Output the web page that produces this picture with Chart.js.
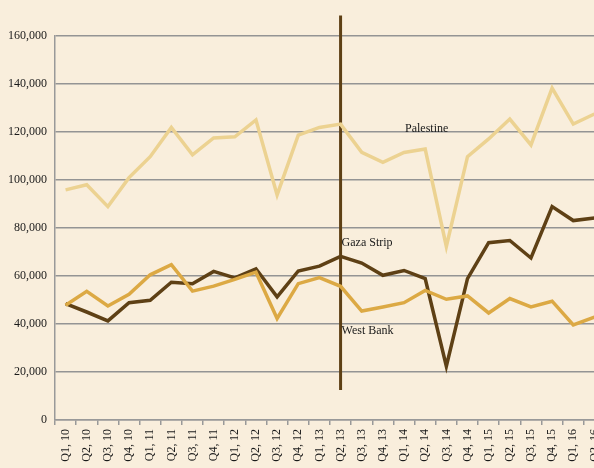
<!DOCTYPE html>
<html>
<head>
<meta charset="utf-8">
<script src="https://cdn.jsdelivr.net/npm/chart.js"></script>
<style>
  html, body { margin: 0; padding: 0; background: #f9eedc; overflow: hidden; width: 594px; height: 468px; }
  #wrap { position: relative; width: 620px; height: 468px; }
  canvas { display: block; }
</style>
</head>
<body>
<div id="wrap"><canvas id="chart" width="620" height="468"></canvas></div>
<script>
// data
const quarters = [
  'Q1, 10', 'Q2, 10', 'Q3, 10', 'Q4, 10',
  'Q1, 11', 'Q2, 11', 'Q3, 11', 'Q4, 11',
  'Q1, 12', 'Q2, 12', 'Q3, 12', 'Q4, 12',
  'Q1, 13', 'Q2, 13', 'Q3, 13', 'Q4, 13',
  'Q1, 14', 'Q2, 14', 'Q3, 14', 'Q4, 14',
  'Q1, 15', 'Q2, 15', 'Q3, 15', 'Q4, 15',
  'Q1, 16', 'Q2, 16'
];
const palestine = [
  95900, 98000, 88900, 101000, 109700, 121900, 110500, 117500,
  118000, 125000, 93800, 118700, 121900, 123300, 111500, 107400,
  111500, 112900, 72300, 109700, 117100, 125400, 114600, 138300,
  123300, 127500
];
const gazaStrip = [
  48500, 45000, 41300, 48900, 49900, 57400, 56800, 61900,
  59200, 63000, 51300, 62100, 64100, 68200, 65400, 60300,
  62300, 58900, 22400, 58900, 73900, 74800, 67500, 88900,
  83100, 84200
];
const westBank = [
  47800, 53600, 47500, 52400, 60500, 64700, 53700, 55800,
  58600, 61600, 42300, 56800, 59300, 55700, 45400, 47100,
  48900, 54000, 50300, 51700, 44600, 50600, 47100, 49500,
  39600, 42900
];
const yTicks = [0, 20000, 40000, 60000, 80000, 100000, 120000, 140000, 160000];

// the vertical divider and the in-chart series labels
const dividerQuarter = 'Q2, 13';
const dividerRange = [12500, 168500];
const seriesLabels = [
  { text: 'Palestine', x: 'Q1, 14', y: 121400 },
  { text: 'Gaza Strip', x: 'Q2, 13', y: 74000 },
  { text: 'West Bank', x: 'Q2, 13', y: 37000 }
];

const serif = '"Liberation Serif", "DejaVu Serif", serif';

// draws the text labels at scale positions
const seriesLabelPlugin = {
  id: 'seriesLabels',
  afterDatasetsDraw(chart) {
    const ctx = chart.ctx;
    const xs = chart.scales.x, ys = chart.scales.y;
    ctx.save();
    ctx.font = '12px ' + serif;
    ctx.fillStyle = '#1a1a1a';
    ctx.textAlign = 'left';
    ctx.textBaseline = 'middle';
    seriesLabels.forEach(l => {
      ctx.fillText(l.text, xs.getPixelForValue(quarters.indexOf(l.x)) + 1, ys.getPixelForValue(l.y));
    });
    ctx.restore();
  }
};

new Chart(document.getElementById('chart'), {
  type: 'line',
  data: {
    labels: quarters,
    datasets: [
      {
        label: 'Palestine',
        data: palestine,
        borderColor: '#ecd291',
        borderWidth: 3.5,
        pointRadius: 0,
        tension: 0
      },
      {
        label: 'West Bank',
        data: westBank,
        borderColor: '#dca944',
        borderWidth: 3.5,
        pointRadius: 0,
        tension: 0
      },
      {
        label: 'Gaza Strip',
        data: gazaStrip,
        borderColor: '#5e4015',
        borderWidth: 3.5,
        pointRadius: 0,
        tension: 0
      },
      {
        label: 'divider',
        data: dividerRange.map(v => ({ x: dividerQuarter, y: v })),
        borderColor: '#5e4015',
        borderWidth: 3,
        pointRadius: 0,
        clip: false
      }
    ]
  },
  options: {
    responsive: false,
    animation: false,
    devicePixelRatio: 1,
    layout: { padding: { top: 36, right: 15, left: 0, bottom: 0 } },
    plugins: {
      legend: { display: false },
      tooltip: { enabled: false }
    },
    scales: {
      x: {
        offset: true,
        grid: {
          offset: true,
          drawOnChartArea: false,
          color: '#999999',
          tickLength: 5,
          lineWidth: 1.5
        },
        border: { color: '#999999', width: 1.5 },
        ticks: {
          autoSkip: false,
          minRotation: 90,
          maxRotation: 90,
          padding: 4,
          color: '#1a1a1a',
          font: { family: serif, size: 12 }
        },
        afterFit(s) { s.height = 48; }
      },
      y: {
        min: 0,
        max: 160000,
        afterBuildTicks(s) { s.ticks = yTicks.map(v => ({ value: v })); },
        grid: {
          color: '#949494',
          lineWidth: 1.5,
          drawTicks: false
        },
        border: { color: '#999999', width: 1.5 },
        ticks: {
          autoSkip: false,
          padding: 8,
          color: '#1a1a1a',
          font: { family: serif, size: 12 },
          callback: v => v.toLocaleString('en-US')
        },
        afterFit(s) { s.width = 55; }
      }
    }
  },
  plugins: [seriesLabelPlugin]
});
</script>
</body>
</html>
